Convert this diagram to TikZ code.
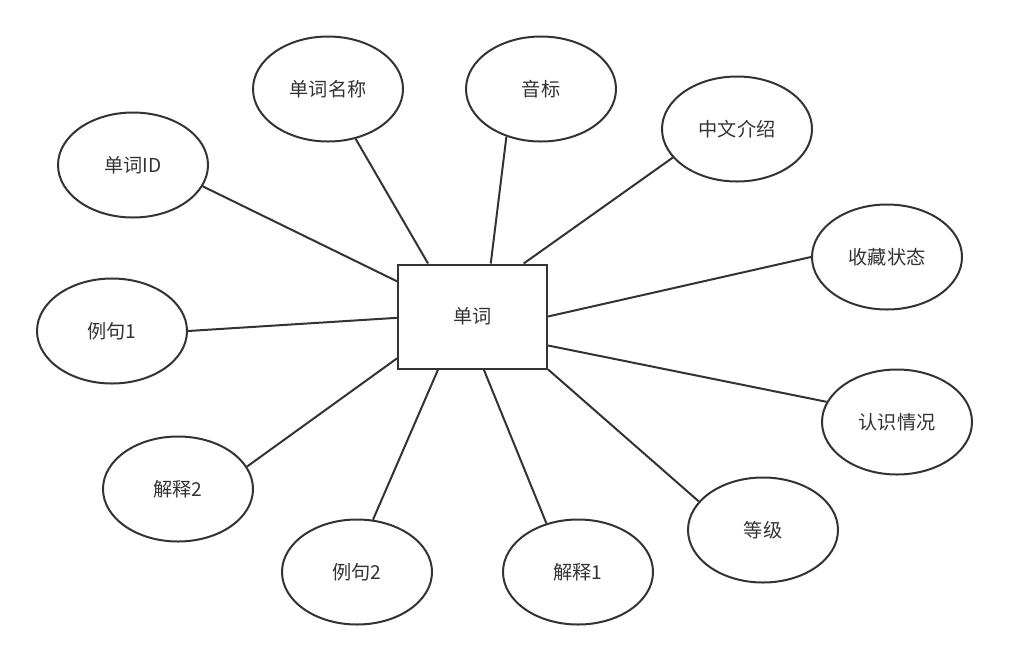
\documentclass[tikz,border=0pt]{standalone}
\usepackage{fontspec}
\setmainfont{Noto Sans CJK SC}
\usetikzlibrary{shapes.geometric}
\definecolor{ink}{HTML}{333333}
\newcommand\lowtxt[1]{\raisebox{-1.5pt}{#1}}
\begin{document}
\begin{tikzpicture}[x=0.75pt,y=-0.75pt,
  attr/.style={ellipse,draw=ink,line width=1.5pt,minimum width=112.5pt,minimum height=78.75pt,inner sep=0pt,text=ink,font=\fontsize{14.4pt}{17pt}\selectfont},
  ent/.style={rectangle,draw=ink,line width=1.5pt,minimum width=111.75pt,minimum height=78pt,inner sep=0pt,text=ink,font=\fontsize{14.4pt}{17pt}\selectfont},
  link/.style={draw=ink,line width=1.5pt}]
\useasboundingbox (0,0) rectangle (1009,661);
\node[ent] (w) at (472.5,316.5) {\lowtxt{单词}};
\node[attr] (id) at (133,165) {\lowtxt{单词ID}};
\node[attr] (name) at (328,89) {\lowtxt{单词名称}};
\node[attr] (phon) at (541,89) {\lowtxt{音标}};
\node[attr] (cn) at (737,129) {\lowtxt{中文介绍}};
\node[attr] (fav) at (887,257) {\lowtxt{收藏状态}};
\node[attr] (know) at (897,422) {\lowtxt{认识情况}};
\node[attr] (lvl) at (763,530) {\lowtxt{等级}};
\node[attr] (ex1) at (578,572) {\lowtxt{解释1}};
\node[attr] (sen2) at (357,572) {\lowtxt{例句2}};
\node[attr] (ex2) at (178,489) {\lowtxt{解释2}};
\node[attr] (sen1) at (112,331) {\lowtxt{例句1}};
\draw[link] (w.155.3) -- (id.-17.4);
\draw[link] (w.130.2) -- (name.-61.7);
\draw[link] (w.71.9) -- (phon.-126);
\draw[link] (w.46.1) -- (cn.-156.4);
\draw[link] (w.0) -- (fav.180);
\draw[link] (w.-21.5) -- (know.164);
\draw[link] (w.-35) -- (lvl.156.5);
\draw[link] (w.-78.5) -- (ex1.123);
\draw[link] (w.-123.7) -- (sen2.73);
\draw[link] (w.-151) -- (ex2.18);
\draw[link] (w.181) -- (sen1.0);
\end{tikzpicture}
\end{document}
